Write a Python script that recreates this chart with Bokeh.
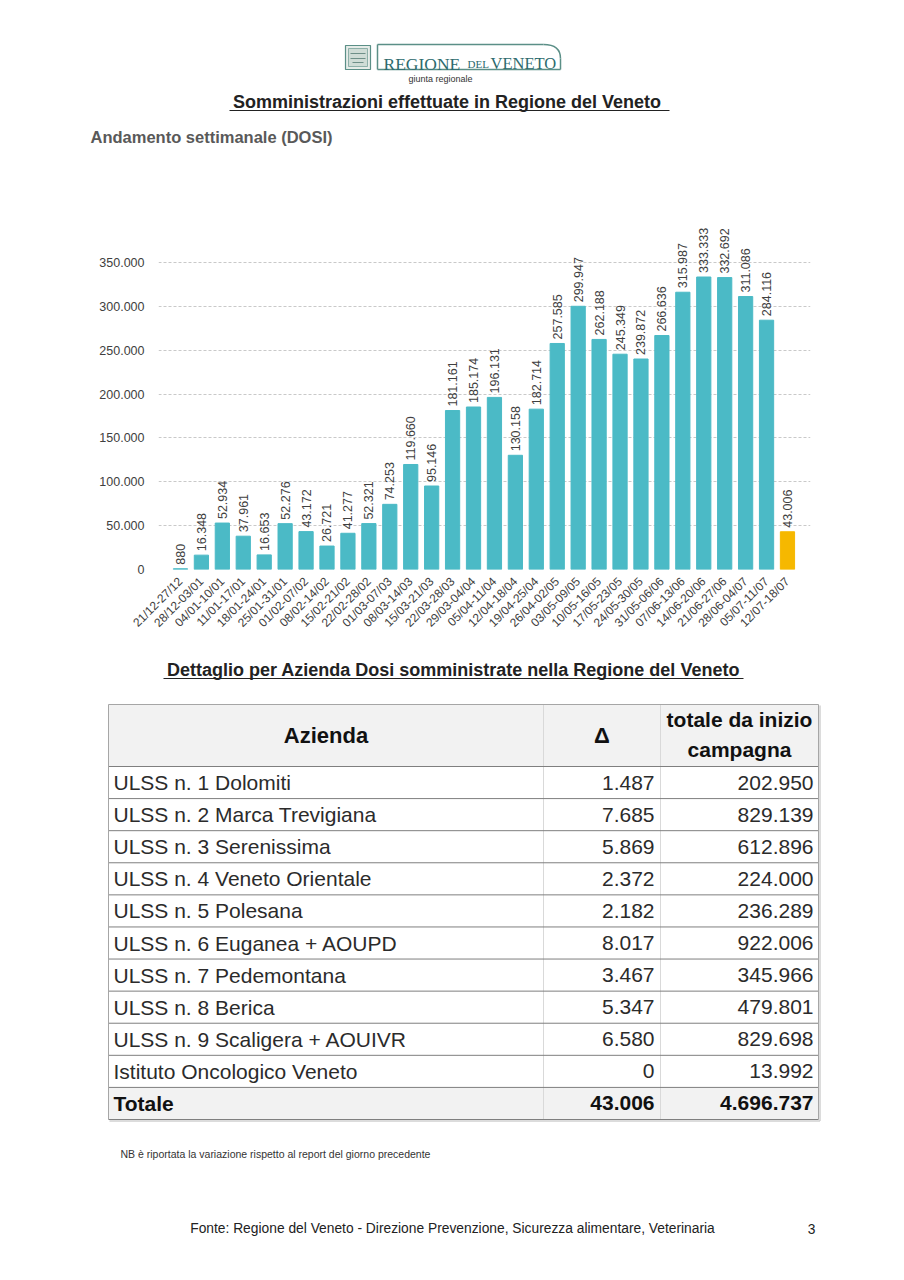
import numpy as np
from math import pi
from bokeh.plotting import figure
from bokeh.layouts import column
from bokeh.models import Range1d, FixedTicker, ColumnDataSource, LabelSet
from bokeh.core.properties import value
from bokeh.embed import file_html
from bokeh.resources import INLINE

# ---------------- data ----------------
weeks = ["21/12-27/12", "28/12-03/01", "04/01-10/01", "11/01-17/01", "18/01-24/01",
         "25/01-31/01", "01/02-07/02", "08/02-14/02", "15/02-21/02", "22/02-28/02",
         "01/03-07/03", "08/03-14/03", "15/03-21/03", "22/03-28/03", "29/03-04/04",
         "05/04-11/04", "12/04-18/04", "19/04-25/04", "26/04-02/05", "03/05-09/05",
         "10/05-16/05", "17/05-23/05", "24/05-30/05", "31/05-06/06", "07/06-13/06",
         "14/06-20/06", "21/06-27/06", "28/06-04/07", "05/07-11/07", "12/07-18/07"]
doses = [880, 16348, 52934, 37961, 16653, 52276, 43172, 26721, 41277, 52321,
         74253, 119660, 95146, 181161, 185174, 196131, 130158, 182714, 257585, 299947,
         262188, 245349, 239872, 266636, 315987, 333333, 332692, 311086, 284116, 43006]
y_ticks = [0, 50000, 100000, 150000, 200000, 250000, 300000, 350000]

aziende = ["ULSS n. 1 Dolomiti", "ULSS n. 2 Marca Trevigiana", "ULSS n. 3 Serenissima",
           "ULSS n. 4 Veneto Orientale", "ULSS n. 5 Polesana", "ULSS n. 6 Euganea + AOUPD",
           "ULSS n. 7 Pedemontana", "ULSS n. 8 Berica", "ULSS n. 9 Scaligera + AOUIVR",
           "Istituto Oncologico Veneto"]
delta = [1487, 7685, 5869, 2372, 2182, 8017, 3467, 5347, 6580, 0]
totale = [202950, 829139, 612896, 224000, 236289, 922006, 345966, 479801, 829698, 13992]


def fmt(v):
    return f"{v:,}".replace(",", ".")


SANS = "Liberation Sans, Arial, sans-serif"
NARROW = "Liberation Sans Narrow, Arial Narrow, Liberation Sans, sans-serif"
SERIF = "Liberation Serif, Times New Roman, serif"
TEAL = "#4bbac6"
GOLD = "#f6b800"
W = 904


def page_fig(y0, y1):
    p = figure(width=W, height=y1 - y0, x_range=Range1d(0, W), y_range=Range1d(y1, y0),
               x_axis_type=None, y_axis_type=None, toolbar_location=None,
               output_backend="svg", min_border=0, frame_align=False)
    p.grid.visible = False
    p.outline_line_color = None
    p.background_fill_color = "white"
    return p


def txt(p, x, y, s, size, color="#222222", font=SANS, style="normal", align="left",
        baseline="middle"):
    p.text(x=[x], y=[y], text=[s], text_font=value(font), text_font_size=f"{size}px",
           text_font_style=style, text_color=color, text_align=align,
           text_baseline=baseline)


# ---------------- header ----------------
hdr = page_fig(0, 150)
# coat of arms
hdr.quad(left=[345], right=[370], top=[45], bottom=[69], fill_color="#e6ece8",
         line_color="#5b8f87", line_width=1.2)
hdr.quad(left=[348], right=[367], top=[48], bottom=[66], fill_color="#cfdcd6",
         line_color="#7aa29b", line_width=0.8)
hdr.multi_line(xs=[[350, 365], [350, 365], [352, 363]], ys=[[53, 53], [58, 58], [62, 62]],
               line_color="#6e8f88", line_width=1)
# logo box with rounded top-right corner
hdr.multi_line(xs=[[377, 543], [377, 377], [377, 560], [560, 560]],
               ys=[[44, 44], [44, 69], [69, 69], [58, 69]], line_color="#5b8f87",
               line_width=1.5)
hdr.bezier(x0=[543], y0=[44], x1=[560], y1=[58], cx0=[556], cy0=[44], cx1=[560], cy1=[50],
           line_color="#5b8f87", line_width=1.5)
txt(hdr, 383, 63, "REGIONE", 17.5, "#2d6b6e", SERIF, baseline="alphabetic")
txt(hdr, 467, 63, "DEL", 11, "#2d6b6e", SERIF, baseline="alphabetic")
txt(hdr, 490, 63, "VENETO", 16.5, "#2d6b6e", SERIF, baseline="alphabetic")
txt(hdr, 440, 78, "giunta regionale", 9, "#333333", SANS, align="center")
# titles
txt(hdr, 449, 101, "Somministrazioni effettuate in  Regione del Veneto", 18, "#222222",
    SANS, "bold", "center")
hdr.segment(x0=[229], y0=[110], x1=[669], y1=[110], line_color="#222222", line_width=1.2)
txt(hdr, 90, 136, "Andamento settimanale (DOSI)", 16.5, "#595959", SANS, "bold")

# ---------------- bar chart ----------------
n = len(doses)
colors = [TEAL] * (n - 1) + [GOLD]
src = ColumnDataSource(dict(x=list(range(n)), top=doses, color=colors,
                            label=[fmt(v) for v in doses]))
ch = figure(width=W, height=495, x_range=Range1d(-1.05, n + 0.1),
            y_range=Range1d(0, 400000), toolbar_location=None, output_backend="svg",
            min_border_left=158, min_border_right=94, min_border_top=68,
            min_border_bottom=76, frame_align=False)
ch.outline_line_color = None
ch.vbar(x="x", top="top", width=0.68, color="color", source=src)
ch.add_layout(LabelSet(x="x", y="top", text="label", source=src, angle=pi / 2,
                       text_align="left", text_baseline="middle", y_offset=4,
                       text_font=value(SANS), text_font_size="12.5px",
                       text_color="#404040"))
ch.xgrid.visible = False
ch.ygrid.ticker = FixedTicker(ticks=y_ticks)
ch.ygrid.grid_line_color = "#c9c9c9"
ch.ygrid.grid_line_dash = "3 2"
ch.yaxis.ticker = FixedTicker(ticks=y_ticks)
ch.yaxis.major_label_overrides = {t: fmt(t) for t in y_ticks}
ch.xaxis.ticker = FixedTicker(ticks=list(range(n)))
ch.xaxis.major_label_overrides = {i: w for i, w in enumerate(weeks)}
ch.xaxis.major_label_orientation = pi / 4
for ax in (ch.xaxis[0], ch.yaxis[0]):
    ax.axis_line_color = None
    ax.major_tick_line_color = None
    ax.minor_tick_line_color = None
    ax.major_label_text_font = SANS
    ax.major_label_text_color = "#404040"
ch.yaxis.major_label_text_font_size = "12.5px"
ch.yaxis.major_label_standoff = 8
ch.xaxis.major_label_text_font_size = "12px"
ch.xaxis.major_label_standoff = 4

# ---------------- table ----------------
tb = page_fig(645, 1125)
txt(tb, 453, 669, "Dettaglio per Azienda Dosi somministrate nella Regione del Veneto", 18,
    "#222222", SANS, "bold", "center")
tb.segment(x0=[163], y0=[678], x1=[743], y1=[678], line_color="#222222", line_width=1.2)

T_LEFT, C1, C2, T_RIGHT = 108, 543, 660, 818
H_TOP, H_BOT, T_BOT = 704, 766, 1119
nrows = len(aziende) + 1
rh = (T_BOT - H_BOT) / nrows
row_c = H_BOT + rh * (np.arange(nrows) + 0.5)
row_lines = H_BOT + rh * np.arange(nrows + 1)

tb.quad(left=[T_LEFT], right=[T_RIGHT], top=[H_TOP], bottom=[H_BOT], fill_color="#f2f2f2",
        line_color=None)
tb.quad(left=[T_LEFT], right=[T_RIGHT], top=[row_lines[-2]], bottom=[T_BOT],
        fill_color="#f2f2f2", line_color=None)
tb.segment(x0=[C1, C2], y0=[H_TOP, H_TOP], x1=[C1, C2], y1=[T_BOT, T_BOT],
           line_color="#d9d9d9", line_width=1)
tb.segment(x0=[T_LEFT] * len(row_lines), y0=list(row_lines), x1=[T_RIGHT] * len(row_lines),
           y1=list(row_lines), line_color="#7f7f7f", line_width=1)
tb.segment(x0=[T_LEFT, T_LEFT, T_RIGHT], y0=[H_TOP, H_TOP, H_TOP],
           x1=[T_RIGHT, T_LEFT, T_RIGHT], y1=[H_TOP, T_BOT, T_BOT],
           line_color="#a6a6a6", line_width=1)
tb.segment(x0=[T_LEFT + 1, T_RIGHT + 1.5], y0=[T_BOT + 1.5, H_TOP + 1],
           x1=[T_RIGHT + 1.5, T_RIGHT + 1.5], y1=[T_BOT + 1.5, T_BOT + 1.5],
           line_color="#d0d0d0", line_width=1.5)

txt(tb, (T_LEFT + C1) / 2, (H_TOP + H_BOT) / 2, "Azienda", 22, "#111111", NARROW, "bold",
    "center")
txt(tb, (C1 + C2) / 2, (H_TOP + H_BOT) / 2, "Δ", 22, "#111111", NARROW, "bold", "center")
txt(tb, (C2 + T_RIGHT) / 2, 719, "totale da inizio", 21, "#111111", NARROW, "bold", "center")
txt(tb, (C2 + T_RIGHT) / 2, 749, "campagna", 21, "#111111", NARROW, "bold", "center")

names = aziende + ["Totale"]
dvals = [fmt(v) for v in delta] + [fmt(sum(delta))]
tvals = [fmt(v) for v in totale] + [fmt(sum(totale))]
styles = ["normal"] * len(aziende) + ["bold"]
cols = ["#2b2b2b"] * len(aziende) + ["#111111"]
tsrc = ColumnDataSource(dict(y=list(row_c), name=names, d=dvals, t=tvals, st=styles, c=cols,
                             xn=[T_LEFT + 5] * nrows, xd=[C2 - 6] * nrows,
                             xt=[T_RIGHT - 5] * nrows))
for xcol, tcol, al in (("xn", "name", "left"), ("xd", "d", "right"), ("xt", "t", "right")):
    tb.text(x=xcol, y="y", text=tcol, source=tsrc, text_font=value(NARROW),
            text_font_size="21px", text_font_style="st", text_color="c", text_align=al,
            text_baseline="middle")

# ---------------- footer ----------------
ft = page_fig(1125, 1270)
txt(ft, 120, 1153, "NB è riportata la variazione rispetto al report del giorno precedente",
    10.5, "#333333", NARROW)
txt(ft, 452, 1228,
    "Fonte: Regione del Veneto - Direzione Prevenzione, Sicurezza alimentare, Veterinaria",
    13.8, "#222222", SANS, align="center")
txt(ft, 811, 1228, "3", 13.8, "#222222", SANS, align="center")

layout = column(hdr, ch, tb, ft, spacing=0)
open("out.html", "w").write(file_html(layout, INLINE))
